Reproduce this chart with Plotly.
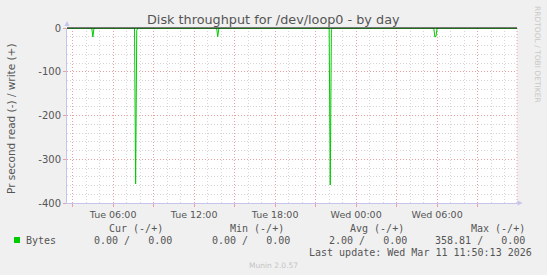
import plotly.graph_objects as go

# ---- data ----
read_times = [
    "2026-03-10 02:35", "2026-03-10 04:25", "2026-03-10 04:30", "2026-03-10 04:35",
    "2026-03-10 07:35", "2026-03-10 07:40", "2026-03-10 07:45", "2026-03-10 07:50",
    "2026-03-10 13:40", "2026-03-10 13:45", "2026-03-10 13:50",
    "2026-03-10 22:00", "2026-03-10 22:05", "2026-03-10 22:10", "2026-03-10 22:15",
    "2026-03-11 05:45", "2026-03-11 05:50", "2026-03-11 05:55", "2026-03-11 06:00",
    "2026-03-11 11:55",
]
read_values = [
    0, 0, 20.5, 0,
    0, 356.2, 5.0, 0,
    0, 20.0, 0,
    0, 358.81, 3.0, 0,
    0, 20.5, 19.0, 0,
    0,
]
write_times = ["2026-03-10 02:35", "2026-03-11 11:55"]
write_values = [0, 0]

x_range = ["2026-03-10 02:35", "2026-03-11 11:55"]
x_tickvals = ["2026-03-10 03:00", "2026-03-10 06:00", "2026-03-10 09:00", "2026-03-10 12:00",
              "2026-03-10 15:00", "2026-03-10 18:00", "2026-03-10 21:00", "2026-03-11 00:00",
              "2026-03-11 03:00", "2026-03-11 06:00", "2026-03-11 09:00"]
x_ticktext = ["", "Tue 06:00", "", "Tue 12:00", "", "Tue 18:00", "", "Wed 00:00", "", "Wed 06:00", ""]
y_tickvals = [0, -100, -200, -300, -400]
y_ticktext = ["0", "-100", "-200", "-300", "-400"]

title = "Disk throughput for /dev/loop0 - by day"
y_title = "Pr second read (-) / write (+)"
series_name = "Bytes"
headers = ["Cur (-/+)", "Min (-/+)", "Avg (-/+)", "Max (-/+)"]
stats = ["0.00 /   0.00", "0.00 /   0.00", "2.00 /   0.00", "358.81 /   0.00"]
last_update = "Last update: Wed Mar 11 11:50:13 2026"
footer = "Munin 2.0.57"
side_text = "RRDTOOL / TOBI OETIKER"

# ---- layout geometry (pixels) ----
W, H = 547, 275
L, R, T, B = 67, 517, 28, 203
PW, PH = R - L, B - T


def px(x):
    return (x - L) / PW


def py(y):
    return (B - y) / PH


GREEN = "#00cc00"
TXT = "#555555"
MAJ = "#e9a0a0"
MIN = "#d6d6d6"
AXIS = "#c4c4ee"
SANS = "DejaVu Sans"
MONO = "DejaVu Sans Mono"

fig = go.Figure()
fig.add_trace(go.Scatter(x=write_times, y=write_values, mode="lines",
                         line=dict(color=GREEN, width=1), showlegend=False, hoverinfo="skip"))
fig.add_trace(go.Scatter(x=read_times, y=[-v for v in read_values], mode="lines",
                         line=dict(color=GREEN, width=1), showlegend=False, hoverinfo="skip"))

fig.update_layout(
    width=W, height=H,
    margin=dict(l=L, r=W - R, t=T, b=H - B, autoexpand=False),
    paper_bgcolor="#f0f0f0", plot_bgcolor="#ffffff",
    showlegend=False,
    font=dict(family=SANS, size=10, color=TXT),
)
fig.update_xaxes(
    type="date", range=x_range, tickmode="array", tickvals=x_tickvals, ticktext=x_ticktext,
    showgrid=True, gridcolor=MAJ, griddash="1px,2px", gridwidth=1,
    ticks="outside", ticklen=3, tickcolor=MAJ, tickfont=dict(family=SANS, size=9.5, color=TXT),
    showline=True, linecolor=AXIS, linewidth=1, zeroline=False,
    minor=dict(tickmode="linear", tick0="2026-03-10 00:00", dtick=3600000, showgrid=True,
               gridcolor=MIN, griddash="1px,2px", gridwidth=1, ticks=""),
    fixedrange=True,
)
fig.update_yaxes(
    range=[-400, 0], tickmode="array", tickvals=y_tickvals, ticktext=y_ticktext,
    showgrid=True, gridcolor=MAJ, griddash="1px,2px", gridwidth=1,
    ticks="outside", ticklen=3, tickcolor=MAJ, tickfont=dict(family=SANS, size=10, color=TXT),
    showline=True, linecolor=AXIS, linewidth=1, zeroline=False,
    minor=dict(tickmode="linear", tick0=0, dtick=20, showgrid=True,
               gridcolor=MIN, griddash="1px,2px", gridwidth=1, ticks=""),
    fixedrange=True,
)

shapes = [
    # zero rule
    dict(type="line", xref="paper", yref="paper", x0=0, x1=1, y0=1, y1=1,
         line=dict(color="#000000", width=1), layer="above"),
    # right border dotted
    dict(type="line", xref="paper", yref="paper", x0=1, x1=1, y0=0, y1=1,
         line=dict(color=MAJ, width=1, dash="1px,2px"), layer="below"),
    # arrow heads
    dict(type="path", xref="paper", yref="paper",
         path=f"M {px(517.5)},{py(200.5)} L {px(522.5)},{py(203)} L {px(517.5)},{py(205.5)} Z",
         fillcolor=AXIS, line=dict(color=AXIS, width=0)),
    dict(type="path", xref="paper", yref="paper",
         path=f"M {px(64.5)},{py(26)} L {px(67)},{py(21)} L {px(69.5)},{py(26)} Z",
         fillcolor=AXIS, line=dict(color=AXIS, width=0)),
    # legend swatch
    dict(type="rect", xref="paper", yref="paper", x0=px(14), x1=px(20), y0=py(243), y1=py(237),
         fillcolor=GREEN, line=dict(color=GREEN, width=0)),
]
fig.update_layout(shapes=shapes)

ann = []


def text(t, x, y, size, color=TXT, family=SANS, xanchor="center", angle=0):
    ann.append(dict(text=t, x=px(x), y=py(y), xref="paper", yref="paper", showarrow=False,
                    xanchor=xanchor, yanchor="middle", textangle=angle,
                    font=dict(family=family, size=size, color=color)))


text(title, 273, 20, 12.8)
text(y_title, 11, 119, 10.5, angle=-90)
text(side_text, 538, 54, 7.5, color="#c8c8c8", angle=90)
header_right = [164, 285, 405, 526]
stat_right = [173, 291, 408, 526]
for h, xr in zip(headers, header_right):
    text(h, xr + 1, 228, 10, family=MONO, xanchor="right")
for s, xr in zip(stats, stat_right):
    text(s.replace(" ", "&nbsp;"), xr + 1, 240, 10, family=MONO, xanchor="right")
text(series_name, 24, 240, 10, family=MONO, xanchor="left")
text(last_update, 534, 252, 10, family=MONO, xanchor="right")
text(footer, 273, 265, 7.5, color="#c4c4c4")
fig.update_layout(annotations=ann)

fig.write_html("out.html")
